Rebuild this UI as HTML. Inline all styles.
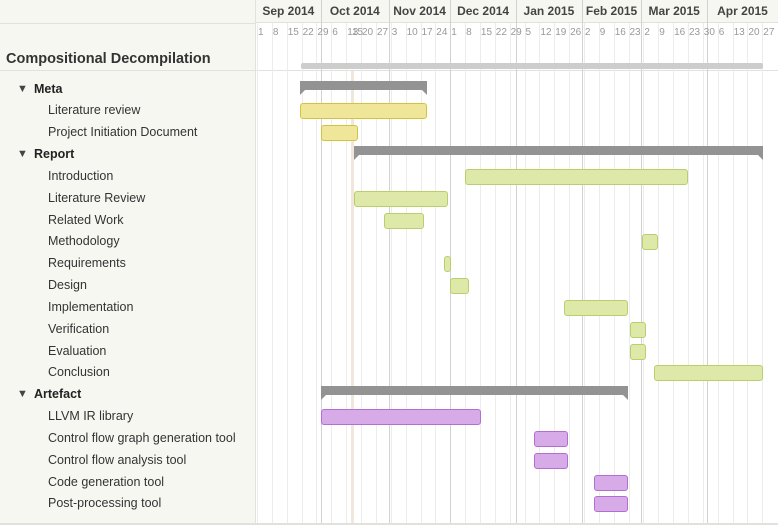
<!DOCTYPE html>
<html><head><meta charset="utf-8"><style>
*{margin:0;padding:0;box-sizing:border-box}
body{width:778px;height:525px;overflow:hidden;background:#fff;font-family:"Liberation Sans",sans-serif;position:relative}
.a{position:absolute}
#left{left:0;top:0;width:256px;height:525px;background:#f7f7f2;border-right:1px solid #e2e2dc}
.hdr{left:256px;top:0;width:522px;height:23px;background:#f7f7f2;border-bottom:1px solid #e2e2dc}
.t{position:absolute;font-size:12.5px;color:#333;white-space:nowrap;line-height:14px}
.g{position:absolute;font-size:12.5px;font-weight:bold;color:#222;white-space:nowrap;line-height:14px}
.tri{position:absolute;font-size:11px;color:#444;line-height:12px}
.mh{position:absolute;top:4px;font-size:12px;font-weight:bold;color:#444;text-align:center;line-height:14px}
.dl{position:absolute;top:27px;font-size:10px;color:#999;line-height:12px}
.bar{position:absolute;height:16px;border-radius:3px}
.y{background:#efe69a;border:1px solid #d3c43f}
.gr{background:#dde8a9;border:1px solid #b8cf6e}
.p{background:#d6abe8;border:1px solid #b46ed2}
.sum{position:absolute;height:9px;background:#939393}
.sum:before,.sum:after{content:"";position:absolute;top:9px;border-top:5px solid #939393}
.sum:before{left:0;border-right:5px solid transparent}
.sum:after{right:0;border-left:5px solid transparent}
</style></head><body>
<div id="left" class="a"></div>
<div class="a" style="left:0;top:23px;width:256px;height:1px;background:#e2e2dc"></div>
<div class="a" style="left:0;top:70px;width:778px;height:1px;background:#e2e2dc"></div>
<div class="a hdr"></div>
<div id="grid"></div>
<div class="a" style="left:6px;top:51px;font-size:14.5px;font-weight:bold;color:#333">Compositional Decompilation</div>
<div class="a" style="left:301px;top:63px;width:462px;height:6px;background:#cdcdcd;border-radius:2px"></div>
<div class="a" style="left:351px;top:71px;width:3px;height:454px;background:#f1e6dc"></div>
<div id="rows"></div>
<div class="a" style="left:0;top:523px;width:778px;height:2px;background:#e2e2dc"></div>
<script>
var o=257,s=2.123,h='';
var ml=[320.7,389,450.2,516,581.8,641.3,707];
for(var k=0;k<=34;k++){var x=o+k*7*s;h+='<div class="a" style="left:'+x.toFixed(1)+'px;top:23px;width:1px;height:502px;background:#ececec"></div>';}
ml.forEach(function(x){h+='<div class="a" style="left:'+x+'px;top:0;width:1px;height:525px;background:#d2d2d2"></div>';});
var mb=[256,320.7,389,450.2,516,581.8,641.3,707,778],mn=['Sep 2014','Oct 2014','Nov 2014','Dec 2014','Jan 2015','Feb 2015','Mar 2015','Apr 2015'];
for(var i=0;i<8;i++)h+='<div class="mh" style="left:'+mb[i]+'px;width:'+(mb[i+1]-mb[i])+'px">'+mn[i]+'</div>';
var d=[1,8,15,22,29,6,13,20,27,3,10,17,24,1,8,15,22,29,5,12,19,26,2,9,16,23,2,9,16,23,30,6,13,20,27];
d.forEach(function(v,k){h+='<div class="dl" style="left:'+(o+k*7*s+1).toFixed(1)+'px">'+v+'</div>';});
h+='<div class="dl" style="left:352px">15</div>';
document.getElementById('grid').innerHTML=h;
var R=[['g','Meta',300,427,'s'],['t','Literature review',300,427,'y'],['t','Project Initiation Document',321,358,'y'],
['g','Report',354,763,'s'],['t','Introduction',465,688,'gr'],['t','Literature Review',354,448,'gr'],['t','Related Work',384,424,'gr'],
['t','Methodology',642,658,'gr'],['t','Requirements',444,451,'gr'],['t','Design',450,469,'gr'],['t','Implementation',564,628,'gr'],
['t','Verification',630,646,'gr'],['t','Evaluation',630,646,'gr'],['t','Conclusion',654,763,'gr'],
['g','Artefact',321,628,'s'],['t','LLVM IR library',321,481,'p'],['t','Control flow graph generation tool',534,568,'p'],
['t','Control flow analysis tool',534,568,'p'],['t','Code generation tool',594,628,'p'],['t','Post-processing tool',594,628,'p']];
h='';
R.forEach(function(r,i){var c=88.5+i*21.84;
if(r[0]=='g'){h+='<div class="tri" style="left:17px;top:'+(c-6)+'px">&#9660;</div><div class="g" style="left:34px;top:'+(c-7)+'px">'+r[1]+'</div>';
h+='<div class="sum" style="left:'+r[2]+'px;width:'+(r[3]-r[2])+'px;top:'+(c-8)+'px"></div>';}
else{h+='<div class="t" style="left:48px;top:'+(c-7)+'px">'+r[1]+'</div>';
h+='<div class="bar '+r[4]+'" style="left:'+r[2]+'px;width:'+(r[3]-r[2])+'px;top:'+(c-7)+'px"></div>';}
});
document.getElementById('rows').innerHTML=h;
</script>
</body></html>
